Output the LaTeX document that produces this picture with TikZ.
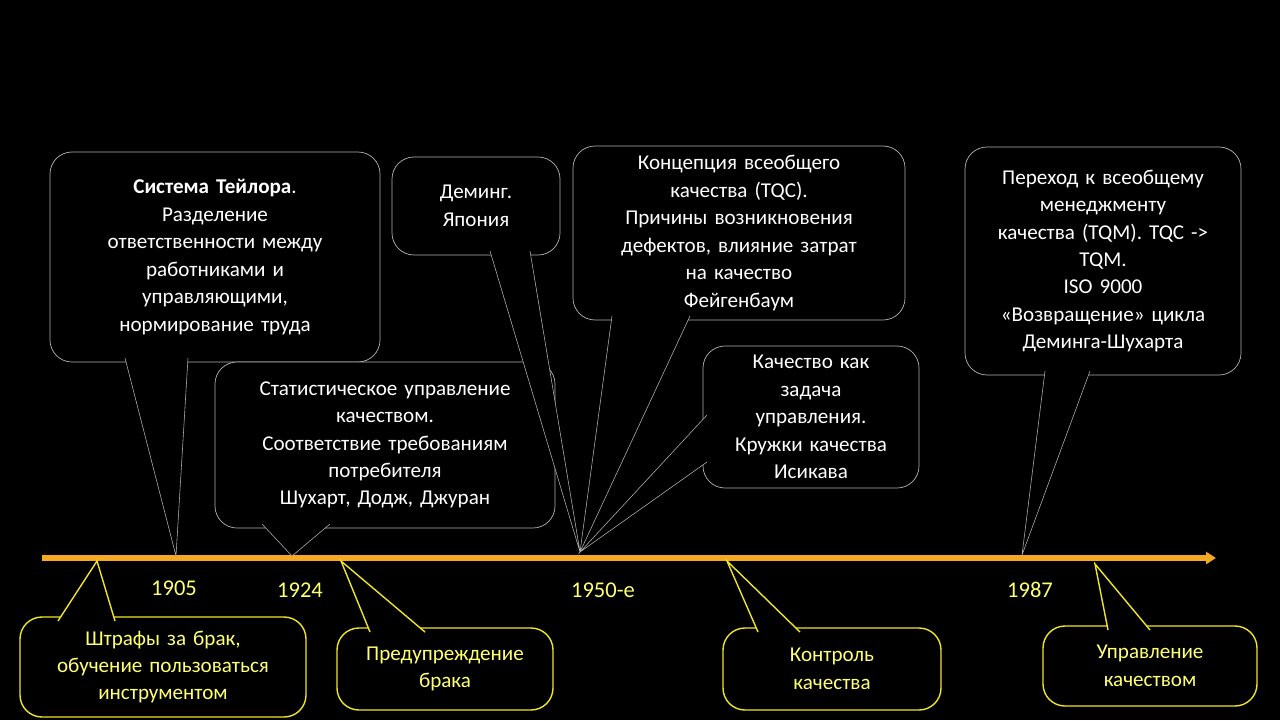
\documentclass[tikz,border=0pt]{standalone}
\usepackage{fontspec}
\setmainfont{Carlito}
\usetikzlibrary{arrows.meta}
\definecolor{boxgray}{rgb}{0.70,0.70,0.70}
\definecolor{boxyellow}{rgb}{0.93,0.90,0.15}
\definecolor{yeartext}{rgb}{1.00,1.00,0.45}
\definecolor{axisorange}{rgb}{0.96,0.66,0.13}
\tikzset{
  callout/.style={draw=boxgray, fill=black, line width=1pt, rounded corners=11mm,
    text=white, align=center, inner sep=0pt, font=\fontsize{30}{39}\selectfont},
  callouty/.style={callout, draw=boxyellow, line width=2pt, text=yeartext},
  pointer/.style={draw=boxgray, line width=0.8pt, fill=black},
  pointery/.style={pointer, draw=boxyellow, line width=2pt},
  year/.style={text=yeartext, font=\fontsize{32}{36}\selectfont}
}
\newcommand{\ptr}[4][pointer]{% style, base a, base b, tip
  \fill[black] (#2)--(#4)--(#3)--cycle;
  \draw[#1, fill=none] (#2)--(#4)--(#3);
}
\begin{document}
\begin{tikzpicture}[x=0.5mm,y=-0.5mm]
\fill[black] (0,0) rectangle (1280,720);
\useasboundingbox (0,0) rectangle (1280,720);

% axis
\coordinate (axl) at (42,558);
\coordinate (axr) at (1216,558);
\draw[axisorange, line width=2.6mm, -{Triangle[length=5mm,width=6mm]}] (axl) -- (axr);

% tips on the axis
\coordinate (t1905) at (176,556);
\coordinate (t1924) at (292,556);
\coordinate (t1950) at (580,552);
\coordinate (t1987) at (1022,555);

% upper callouts
\node[callout, minimum width=165mm, minimum height=105mm, text width=150mm] (taylor) at (215,257)
  {\textbf{Система Тейлора}.\\Разделение\\ответственности между\\работниками и\\управляющими,\\нормирование труда};
\ptr{125,358}{188,358}{t1905}

\node[callout, minimum width=84mm, minimum height=49mm, text width=80mm] (deming) at (476,206)
  {Деминг.\\Япония};

\node[callout, minimum width=166mm, minimum height=87mm, text width=160mm] (tqc) at (739,233)
  {Концепция всеобщего\\качества (TQC).\\Причины возникновения\\дефектов, влияние затрат\\на качество\\Фейгенбаум};
\ptr{612,316}{690,316}{t1950}

\node[callout, minimum width=170mm, minimum height=83mm, text width=165mm] (stat) at (385,445)
  {Статистическое управление\\качеством.\\Соответствие требованиям\\потребителя\\Шухарт, Додж, Джуран};
\ptr{262,524}{330,524}{t1924}
\ptr{490,251}{530,251}{t1950}

\node[callout, minimum width=108mm, minimum height=71mm, text width=104mm] (task) at (811,417)
  {Качество как\\задача\\управления.\\Кружки качества\\Исикава};
\ptr{707,415}{707,462}{t1950}

\node[callout, minimum width=138mm, minimum height=114mm, text width=134mm] (tqm) at (1103,261)
  {Переход к всеобщему\\менеджменту\\качества (TQM). TQC ->\\TQM.\\ISO 9000\\«Возвращение» цикла\\Деминга-Шухарта};
\ptr{1045,371}{1090,371}{t1987}

% years
\node[year] (y1905) at (174,588) {1905};
\node[year] (y1924) at (300,590) {1924};
\node[year] (y1950) at (603,590) {1950-е};
\node[year] (y1987) at (1030,590) {1987};

% lower callouts
\coordinate (b1) at (97,561);
\coordinate (b2) at (341,561);
\coordinate (b3) at (727,561);
\coordinate (b4) at (1095,564);
\node[callouty, minimum width=143mm, minimum height=50mm, text width=140mm] (fines) at (163,667)
  {Штрафы за брак,\\обучение пользоваться\\инструментом};
\ptr[pointery]{58,621}{115,621}{b1}
\node[callouty, minimum width=108mm, minimum height=41mm, text width=104mm] (prev) at (445,669)
  {Предупреждение\\брака};
\ptr[pointery]{370,632}{425,632}{b2}
\node[callouty, minimum width=109mm, minimum height=41mm, text width=104mm] (ctrl) at (832,669)
  {Контроль\\качества};
\ptr[pointery]{758,632}{800,632}{b3}
\node[callouty, minimum width=107mm, minimum height=40mm, text width=104mm] (mgmt) at (1150,666)
  {Управление\\качеством};
\ptr[pointery]{1108,630}{1150,630}{b4}
\end{tikzpicture}
\end{document}
